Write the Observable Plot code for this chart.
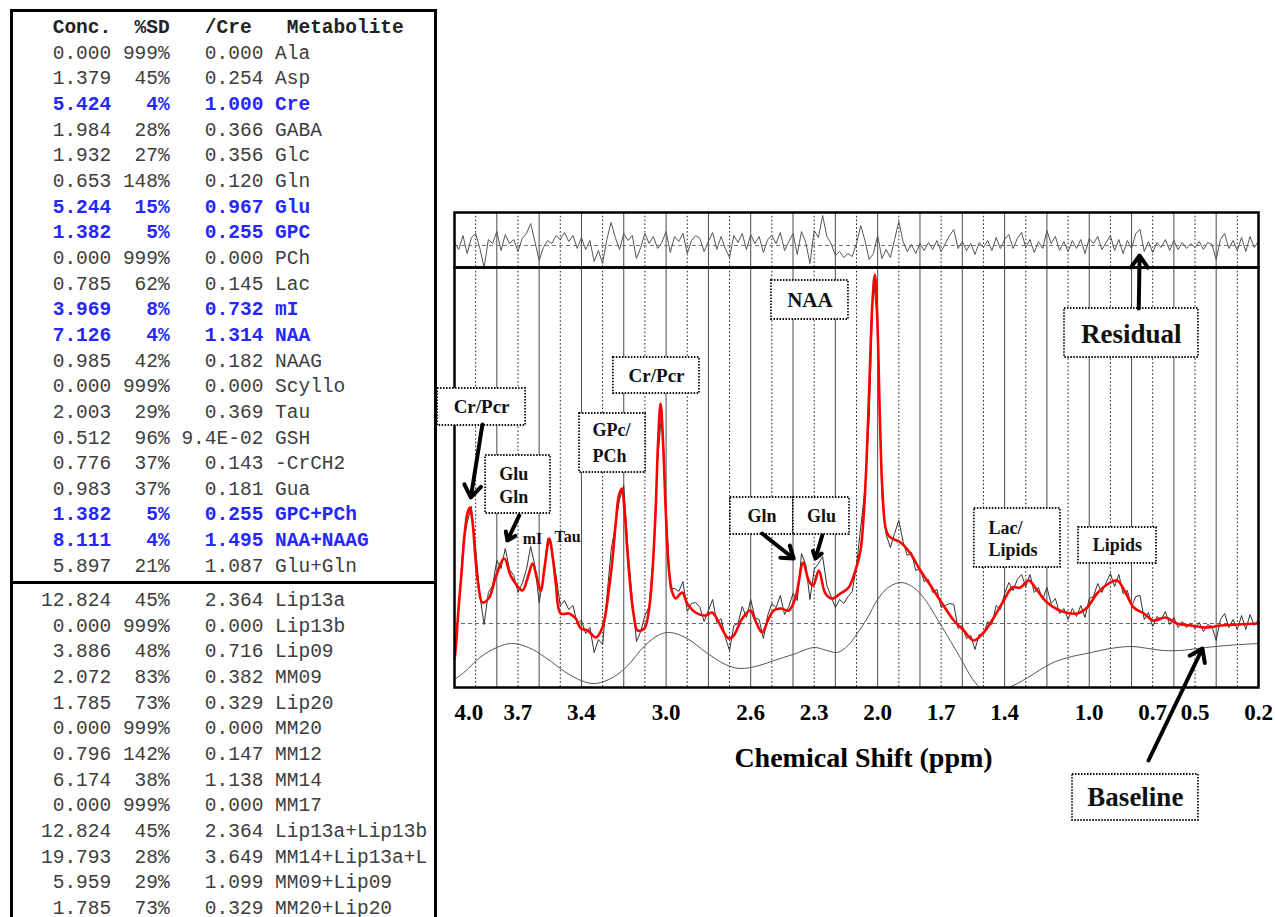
<!DOCTYPE html>
<html><head><meta charset="utf-8">
<script src="https://cdn.jsdelivr.net/npm/d3@7"></script>
<script src="https://cdn.jsdelivr.net/npm/@observablehq/plot@0.6"></script>
<style>
html,body{margin:0;padding:0;background:#fff;width:1275px;height:917px;overflow:hidden;}
#table{position:absolute;left:10px;top:9px;width:427px;height:960px;border:3px solid #000;box-sizing:border-box;}
#sep{position:absolute;left:10px;top:581px;width:427px;height:3px;background:#000;}
pre{position:absolute;left:41px;margin:0;font-family:"Liberation Mono",monospace;font-size:19.5px;line-height:25.65px;color:#3d3d3d;}
.hi{color:#2626ff;font-weight:bold;}
.hd{font-weight:bold;color:#222;}
#resid{position:absolute;left:430px;top:205px;}
#main{position:absolute;left:430px;top:267px;}
</style></head><body>
<div id="table"></div><div id="sep"></div>
<pre id="topRows" style="top:16px"></pre>
<pre id="bottomRows" style="top:589px"></pre>
<div id="resid"></div><div id="main"></div>
<script>
// ---------- table data ----------
const headerCols = ["Conc.", "%SD", "/Cre", "Metabolite"];
const concTop = ["0.000","1.379","5.424","1.984","1.932","0.653","5.244","1.382","0.000","0.785","3.969","7.126","0.985","0.000","2.003","0.512","0.776","0.983","1.382","8.111","5.897"];
const sdTop   = ["999%","45%","4%","28%","27%","148%","15%","5%","999%","62%","8%","4%","42%","999%","29%","96%","37%","37%","5%","4%","21%"];
const creTop  = ["0.000","0.254","1.000","0.366","0.356","0.120","0.967","0.255","0.000","0.145","0.732","1.314","0.182","0.000","0.369","9.4E-02","0.143","0.181","0.255","1.495","1.087"];
const nameTop = ["Ala","Asp","Cre","GABA","Glc","Gln","Glu","GPC","PCh","Lac","mI","NAA","NAAG","Scyllo","Tau","GSH","-CrCH2","Gua","GPC+PCh","NAA+NAAG","Glu+Gln"];
const highlighted = ["Cre","Glu","GPC","mI","NAA","GPC+PCh","NAA+NAAG"];
const concBot = ["12.824","0.000","3.886","2.072","1.785","0.000","0.796","6.174","0.000","12.824","19.793","5.959","1.785"];
const sdBot   = ["45%","999%","48%","83%","73%","999%","142%","38%","999%","45%","28%","29%","73%"];
const creBot  = ["2.364","0.000","0.716","0.382","0.329","0.000","0.147","1.138","0.000","2.364","3.649","1.099","0.329"];
const nameBot = ["Lip13a","Lip13b","Lip09","MM09","Lip20","MM20","MM12","MM14","MM17","Lip13a+Lip13b","MM14+Lip13a+L","MM09+Lip09","MM20+Lip20"];

// ---------- spectrum data (ppm, signal) ----------
const sampleShift = d3.range(4.0, 0.19, -0.02); // spectral sample positions
const dataSignal = [
 -3.2,1.4,7.8,10.1,11.7,7.5,2.8,-0.1,3.1,3.8,
 6.3,5.5,7.5,5.4,4.8,3.1,4.0,5.4,7.7,5.8,
 2.1,4.6,8.5,7.5,4.8,1.8,2.3,1.4,1.8,0.0,
 0.3,-1.0,-0.4,-2.9,-1.6,-2.1,2.6,7.3,9.8,12.4,
 13.8,7.3,2.5,-1.8,-0.8,0.8,1.7,6.9,16.2,21.3,
 11.4,3.5,3.5,3.2,4.2,1.2,2.0,2.1,1.6,0.2,
 1.3,2.4,0.1,0.5,-1.4,-2.7,-0.2,0.0,1.7,0.6,
 2.4,0.6,0.4,-1.5,0.8,2.0,1.6,2.8,0.9,1.7,
 3.0,2.3,7.0,5.9,2.4,5.4,6.0,6.7,3.8,2.7,
 1.6,2.4,2.0,2.7,3.2,5.8,9.6,13.5,20.6,34.5,
 30.0,12.7,8.9,7.6,9.0,10.3,8.2,6.8,7.1,5.3,
 5.5,4.2,4.4,3.1,3.4,1.6,1.8,2.0,1.9,-0.5,
 -0.2,-1.5,-1.2,-2.6,-1.1,-1.1,0.2,-0.1,1.8,1.4,
 3.0,4.1,3.3,4.4,4.9,3.7,4.9,3.1,3.6,2.4,
 3.6,2.0,2.5,1.0,1.5,0.4,1.5,0.7,1.8,0.6,
 2.5,2.7,4.0,3.1,4.1,5.0,3.7,4.9,3.0,3.3,
 1.7,2.7,2.8,0.4,1.1,-0.3,0.7,0.4,1.2,-0.1,
 0.6,-0.4,0.2,-0.4,0.0,-0.5,0.1,-0.8,-0.1,-0.3,
 -1.7,0.4,1.0,-0.4,0.4,-0.6,0.8,-0.6,0.9,-0.2,0.4];
const residualSignal = [
 0.3,-0.4,1.0,-0.8,0.8,1.2,-0.3,-2.2,0.6,0.2,
 1.4,-0.5,1.1,0.2,0.6,-0.6,0.7,1.2,2.2,0.4,
 -1.5,-0.2,0.5,0.2,1.0,0.6,1.3,0.4,1.0,-0.3,
 0.8,-0.4,0.5,-1.6,-0.5,-1.8,0.6,2.3,0.8,-0.4,
 1.2,0.5,1.0,-1.3,-0.2,1.2,0.2,0.9,-0.3,0.3,
 1.4,-0.7,0.9,0.4,1.2,-0.8,0.5,1.0,0.7,-0.6,
 0.4,1.3,-0.4,0.9,-0.3,-1.2,1.0,0.3,1.2,-0.4,
 1.1,0.2,0.9,-0.7,0.6,1.0,0.2,1.3,-0.5,0.4,
 1.2,-0.9,1.4,0.3,-1.8,1.5,0.8,3.0,0.9,0.2,
 -1.0,-0.6,-1.2,-0.8,-1.1,0.2,2.0,0.5,-1.4,-0.8,
 1.0,-1.3,-0.4,-1.2,0.6,2.4,0.4,-0.6,0.1,-0.8,
 0.2,-0.5,0.3,-0.4,0.5,-0.6,0.2,1.0,1.6,-0.3,
 0.4,-0.5,0.2,-0.9,0.3,-0.2,0.5,-0.5,0.8,-0.3,
 0.6,1.1,-0.3,0.7,1.3,-0.2,0.6,-0.7,0.4,-0.3,
 1.5,0.2,0.9,-0.5,0.4,-0.6,0.5,-0.3,0.6,-0.8,
 0.7,0.2,0.9,-0.4,0.3,1.0,-0.5,0.6,-0.8,0.5,
 -0.3,1.2,1.6,-0.6,0.4,-0.7,0.3,-0.2,0.6,-0.5,
 0.5,-0.4,0.3,-0.3,0.2,-0.2,0.4,-0.4,0.3,0.1,
 -1.4,0.6,1.2,-0.3,0.5,-0.5,0.8,-0.6,0.9,-0.2,0.4];
const fitPoints = [[4.000,-3.6],[3.995,-2.7],[3.981,1.5],[3.967,5.0],[3.953,8.8],[3.939,11.0],[3.928,11.6],[3.915,10.2],[3.901,6.5],[3.887,3.8],[3.868,2.1],[3.836,2.6],[3.806,4.6],[3.765,6.5],[3.735,4.8],[3.712,4.0],[3.679,3.3],[3.655,4.5],[3.631,6.0],[3.610,4.5],[3.592,3.3],[3.575,5.5],[3.552,8.5],[3.535,6.5],[3.521,4.0],[3.498,1.0],[3.458,1.0],[3.427,0.5],[3.403,-0.5],[3.371,-0.7],[3.332,-1.4],[3.301,-0.4],[3.269,3.6],[3.253,6.5],[3.238,10.0],[3.223,12.8],[3.209,13.5],[3.197,11.5],[3.182,7.0],[3.168,3.5],[3.154,1.0],[3.135,-0.7],[3.103,-0.5],[3.080,1.5],[3.065,5.0],[3.050,11.0],[3.038,18.0],[3.026,22.0],[3.014,18.0],[3.001,11.0],[2.987,5.5],[2.972,3.2],[2.955,2.5],[2.924,3.1],[2.900,2.0],[2.861,1.1],[2.814,0.8],[2.782,1.1],[2.751,0.1],[2.704,-1.5],[2.680,-1.2],[2.640,0.5],[2.601,1.3],[2.578,0.3],[2.546,-0.9],[2.515,0.5],[2.491,1.3],[2.459,1.5],[2.420,1.3],[2.388,2.6],[2.352,6.1],[2.326,4.3],[2.305,3.8],[2.278,5.3],[2.247,3.0],[2.215,2.5],[2.176,3.0],[2.137,3.6],[2.105,5.3],[2.081,7.3],[2.067,10.5],[2.053,16.0],[2.039,24.0],[2.025,32.0],[2.013,34.9],[2.001,30.0],[1.990,21.0],[1.978,13.5],[1.963,9.6],[1.949,8.8],[1.932,8.5],[1.892,8.1],[1.845,7.0],[1.798,5.3],[1.750,3.8],[1.695,2.0],[1.640,0.3],[1.593,-0.7],[1.546,-1.7],[1.499,-0.9],[1.451,0.6],[1.404,2.3],[1.364,3.6],[1.325,3.6],[1.286,4.3],[1.246,3.3],[1.199,2.1],[1.150,1.4],[1.110,1.1],[1.057,1.0],[1.010,1.6],[0.963,3.0],[0.908,4.0],[0.868,4.3],[0.829,3.1],[0.790,1.6],[0.742,1.0],[0.695,0.3],[0.640,0.6],[0.585,0.0],[0.522,-0.2],[0.443,-0.4],[0.380,-0.2],[0.301,-0.1],[0.200,0.0]];
const baselinePoints = [[4.00,-5.6],[3.95,-4.8],[3.88,-3.4],[3.80,-2.4],[3.73,-2.0],[3.65,-2.4],[3.57,-3.4],[3.45,-5.2],[3.35,-6.0],[3.27,-5.6],[3.19,-4.4],[3.10,-2.2],[3.03,-1.1],[2.98,-0.9],[2.90,-1.5],[2.81,-2.9],[2.72,-4.1],[2.65,-4.5],[2.56,-4.2],[2.49,-3.7],[2.40,-3.1],[2.30,-2.4],[2.24,-2.7],[2.19,-2.9],[2.14,-2.2],[2.10,-1.1],[2.05,0.5],[2.00,2.4],[1.95,3.6],[1.89,4.1],[1.83,3.6],[1.78,2.5],[1.70,-0.2],[1.61,-3.4],[1.55,-5.6],[1.50,-6.7],[1.45,-6.9],[1.40,-6.6],[1.34,-6.0],[1.29,-5.4],[1.18,-4.0],[1.10,-3.4],[0.99,-2.9],[0.90,-2.5],[0.80,-2.3],[0.72,-2.5],[0.65,-2.7],[0.57,-2.7],[0.49,-2.5],[0.35,-2.2],[0.20,-2.0]];

// ---------- axis / grid ----------
const xTickLabels = [4.0, 3.7, 3.4, 3.0, 2.6, 2.3, 2.0, 1.7, 1.4, 1.0, 0.7, 0.5, 0.2];
const gridSolid = [3.8,3.6,3.4,3.2,3.0,2.8,2.6,2.4,2.2,2.0,1.8,1.6,1.4,1.2,1.0,0.8,0.6,0.4];
const gridDotted = [3.9,3.7,3.5,3.3,3.1,2.9,2.7,2.5,2.3,2.1,1.9,1.7,1.5,1.3,1.1,0.9,0.7,0.5,0.3];
const axisTitle = "Chemical Shift (ppm)";

// ---------- annotations ----------
const boxLabels = ["NAA","Cr/Pcr top","Cr/Pcr left","GPc/PCh","Glu/Gln","Gln","Glu","Lac/Lipids","Lipids","Residual","Baseline"];
const boxX1 = [2.502,3.249,4.080,3.409,3.853,2.696,2.398,1.543,1.051,1.117,1.079];
const boxX2 = [2.138,2.842,3.664,3.097,3.546,2.398,2.133,1.136,0.682,0.484,0.484];
const boxY1 = [30.4,23.0,19.8,15.1,11.0,8.9,8.9,5.6,6.0,26.6,-19.7];
const boxY2 = [34.3,26.6,23.5,21.0,16.8,12.6,12.6,11.5,9.6,31.5,-15.1];
const noteText = ["NAA","Cr/Pcr","Cr/Pcr","GPc/","PCh","Glu","Gln","mI","Tau","Gln","Glu","Lac/","Lipids","Lipids","Residual","Baseline"];
const noteX =    [2.320,3.045,3.872,3.348,3.348,3.789,3.789,3.631,3.466,2.547,2.266,1.476,1.476,0.867,0.801,0.782];
const noteY =    [32.35,24.8,21.65,19.3,16.7,14.9,12.6,8.5,8.7,10.7,10.7,9.5,7.3,7.8,28.9,-17.4];
const noteSize = [21,19,19,18,18,18,18,16,16,18,18,18,18,18,27,27];
const noteAnchor=["middle","middle","middle","start","start","start","start","middle","middle","middle","middle","start","start","middle","middle","middle"];
const arrowFromX = [3.868,3.694,2.546,2.262,0.766,0.720];
const arrowFromY = [19.9,10.8,9.0,8.8,31.5,-13.7];
const arrowToX =   [3.923,3.750,2.397,2.294,0.762,0.465];
const arrowToY =   [12.6,8.3,6.5,6.5,36.8,-2.5];

// ---------- table render ----------
function row(c, s, r, n) {
  return c.padStart(6) + " " + s.padStart(4) + " " + r.padStart(7) + " " + n;
}
const hdr = " " + headerCols[0] + "  " + headerCols[1] + "   " + headerCols[2] + "   " + headerCols[3];
let topHtml = `<span class="hd">${hdr}</span>\n`;
topHtml += nameTop.map((n, i) => {
  const t = row(concTop[i], sdTop[i], creTop[i], n);
  return highlighted.includes(n) ? `<span class="hi">${t}</span>` : t;
}).join("\n");
document.getElementById("topRows").innerHTML = topHtml;
document.getElementById("bottomRows").textContent = nameBot.map((n, i) => row(concBot[i], sdBot[i], creBot[i], n)).join("\n");

// ---------- plots ----------
const W = 845, ML = 24, MR = 17;
const serif = "Liberation Serif, Times New Roman, serif";
const gridMarks = () => [
  Plot.ruleX(gridSolid, {stroke: "#4a4a4a", strokeWidth: 1}),
  Plot.ruleX(gridDotted, {stroke: "#222", strokeWidth: 1, strokeDasharray: "1.6,2.2"})
];

const residPlot = Plot.plot({
  width: W, height: 62, marginLeft: ML, marginRight: MR, marginTop: 7, marginBottom: 0,
  x: {domain: [4.0, 0.2], axis: null},
  y: {domain: [-2.2, 3.3], axis: null},
  style: {background: "transparent", overflow: "visible"},
  marks: [
    ...gridMarks(),
    Plot.ruleY([0], {stroke: "#777", strokeDasharray: "4,3", strokeWidth: 1}),
    Plot.line(residualSignal, {x: (d, i) => sampleShift[i], y: d => d, stroke: "#555", strokeWidth: 1}),
    Plot.frame({stroke: "#000", strokeWidth: 2.5})
  ]
});
document.getElementById("resid").appendChild(residPlot);

const boxes = boxLabels.map((l, i) => ({label: l, x1: boxX1[i], x2: boxX2[i], y1: boxY1[i], y2: boxY2[i]}));
const notes = noteText.map((t, i) => ({t, x: noteX[i], y: noteY[i], s: noteSize[i], a: noteAnchor[i]}));
const arrows = arrowFromX.map((x, i) => ({x1: x, y1: arrowFromY[i], x2: arrowToX[i], y2: arrowToY[i]}));
const noteMarks = ["start", "middle"].flatMap(a => [16, 18, 19, 21, 27].map(s =>
  Plot.text(notes.filter(n => n.a === a && n.s === s), {x: "x", y: "y", text: "t", textAnchor: a, lineAnchor: "middle",
    fontSize: s, fontWeight: "bold", fontFamily: serif, fill: "#111"})));

const mainPlot = Plot.plot({
  width: W, height: 563, marginLeft: ML, marginRight: MR, marginTop: 0, marginBottom: 143,
  x: {domain: [4.0, 0.2], axis: null},
  y: {domain: [-6.4, 35.6], axis: null},
  style: {background: "transparent", overflow: "visible"},
  marks: [
    ...gridMarks(),
    Plot.ruleY([0], {stroke: "#666", strokeDasharray: "4,3", strokeWidth: 1}),
    Plot.line(baselinePoints, {x: d => d[0], y: d => d[1], curve: "catmull-rom", stroke: "#555", strokeWidth: 1, clip: true}),
    Plot.line(dataSignal, {x: (d, i) => sampleShift[i], y: d => d, stroke: "#333", strokeWidth: 1}),
    Plot.line(fitPoints, {x: d => d[0], y: d => d[1], curve: "catmull-rom", stroke: "#ff0000", strokeWidth: 2.6}),
    Plot.frame({stroke: "#000", strokeWidth: 2.5}),
    Plot.rect(boxes, {x1: "x1", x2: "x2", y1: "y1", y2: "y2", fill: "#fff", stroke: "#111", strokeWidth: 1.8, strokeDasharray: "1.5,1.5"}),
    ...noteMarks,
    Plot.arrow(arrows, {x1: "x1", y1: "y1", x2: "x2", y2: "y2", stroke: "#000", strokeWidth: 4, headLength: 5.5, headAngle: 70}),
    Plot.text(xTickLabels.slice(0, 1), {x: d => d, text: d => d.toFixed(1), frameAnchor: "bottom", dy: 16, lineAnchor: "top", textAnchor: "start",
      fontSize: 23, fontWeight: "bold", fontFamily: serif, fill: "#000"}),
    Plot.text(xTickLabels.slice(1), {x: d => d, text: d => d.toFixed(1), frameAnchor: "bottom", dy: 16, lineAnchor: "top",
      fontSize: 23, fontWeight: "bold", fontFamily: serif, fill: "#000"}),
    Plot.text([axisTitle], {frameAnchor: "bottom", dx: 7, dy: 71, lineAnchor: "middle", text: d => d,
      fontSize: 28, fontWeight: "bold", fontFamily: serif, fill: "#000"})
  ]
});
document.getElementById("main").appendChild(mainPlot);
</script></body></html>
